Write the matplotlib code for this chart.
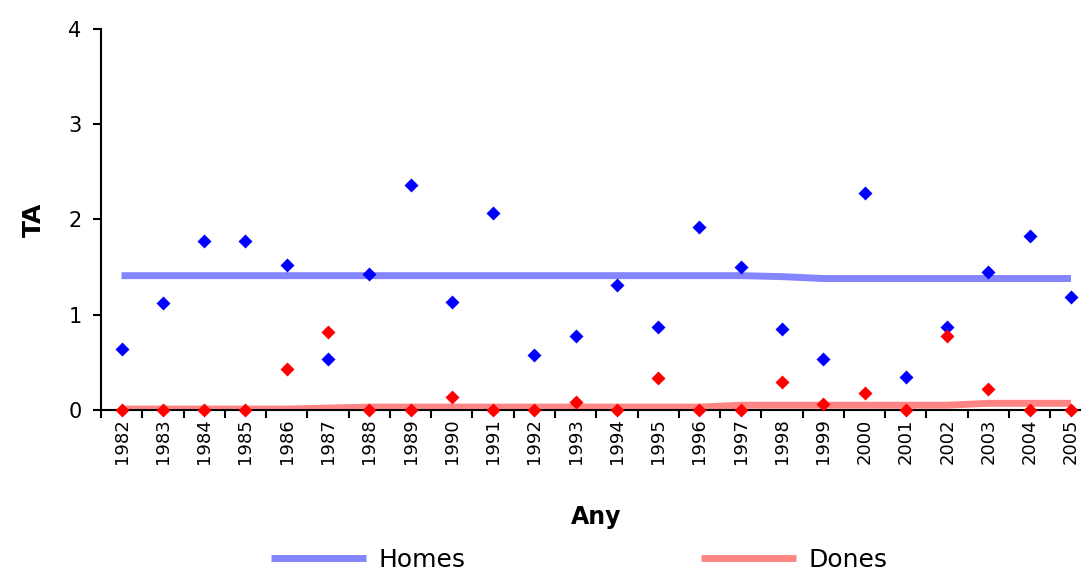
import numpy as np
import matplotlib
matplotlib.use("Agg")
import matplotlib.pyplot as plt

years = [str(y) for y in range(1982, 2006)]

homes = [0.64, 1.12, 1.77, 1.77, 1.52, 0.54, 1.43, 2.36, 1.13, 2.07, 0.58, 0.78,
         1.31, 0.87, 1.92, 1.50, 0.85, 0.54, 2.28, 0.35, 0.87, 1.45, 1.83, 1.19]
dones = [0.0, 0.0, 0.0, 0.0, 0.43, 0.82, 0.0, 0.0, 0.14, 0.0, 0.0, 0.08,
         0.0, 0.34, 0.0, 0.0, 0.29, 0.06, 0.18, 0.0, 0.78, 0.22, 0.0, 0.0]

# trend lines
homes_trend = [1.41] * 16 + [1.40] + [1.38] * 7
dones_trend = [0.01] * 5 + [0.02] + [0.03] * 9 + [0.05] * 6 + [0.07] * 3

yticks = [0, 1, 2, 3, 4]

plt.rcParams['font.family'] = ['DejaVu Sans']

fig = plt.figure(figsize=(10.81, 5.78), dpi=100)
ax = fig.add_axes([0.0934, 0.2907, 0.9164, 0.6592])

x = np.arange(len(years))

ax.plot(x, homes_trend, color='#8585ff', lw=5, solid_capstyle='butt', label='Homes', zorder=2)
ax.plot(x, dones_trend, color='#ff8585', lw=5, solid_capstyle='butt', label='Dones', zorder=2)
ax.plot(x, homes, 'D', color='#0000ff', ms=7, mec='none', clip_on=False, zorder=3)
ax.plot(x, dones, 'D', color='#ff0000', ms=7, mec='none', clip_on=False, zorder=3)

ax.set_xlim(-0.5, len(years) - 0.5)
ax.set_ylim(0, 4)

ax.set_xticks(x)
ax.set_xticklabels(years, rotation=90, fontsize=13)
ax.set_xticks(np.arange(-0.5, len(years)), minor=True)
ax.tick_params(axis='x', which='major', length=0, pad=6)
ax.tick_params(axis='x', which='minor', length=6, width=1.5, direction='out')

ax.set_yticks(yticks)
ax.set_yticklabels([str(v) for v in yticks], fontsize=15)
ax.tick_params(axis='y', length=6, width=1.5, direction='out', pad=8)

for s in ['top', 'right']:
    ax.spines[s].set_visible(False)
for s in ['left', 'bottom']:
    ax.spines[s].set_linewidth(1.5)

ax.set_ylabel('TA', fontsize=18, fontweight='bold')
ax.yaxis.label.set_va('center')
ax.yaxis.set_label_coords(-0.068, 0.5)
ax.set_xlabel('Any', fontsize=17, fontweight='bold')
ax.xaxis.set_label_coords(0.5, -0.25)

fig.legend(loc='center', bbox_to_anchor=(0.536, 0.032), ncol=2, frameon=False,
           fontsize=18, handlelength=3.8, handletextpad=0.5, columnspacing=9.4)

fig.savefig('out.png', dpi=100)
